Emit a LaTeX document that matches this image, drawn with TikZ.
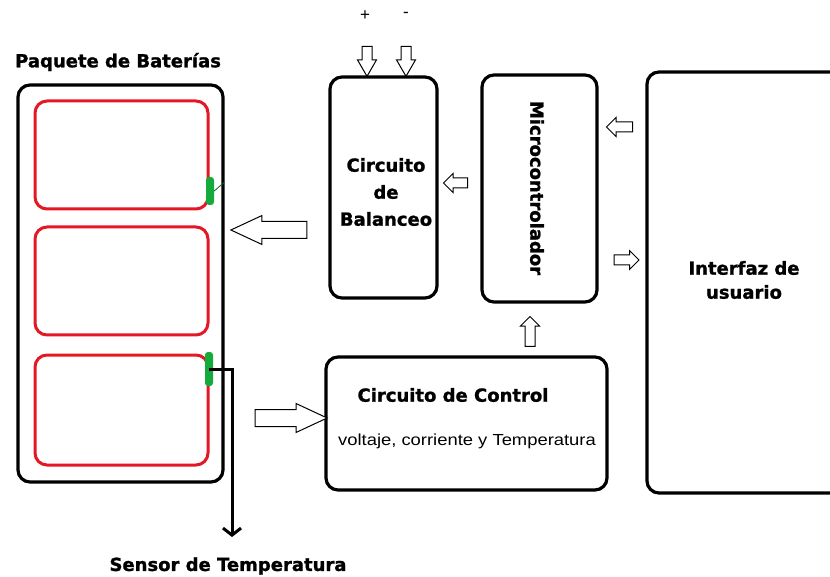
\documentclass[tikz,border=0pt]{standalone}
\usepackage{fontspec}
\setmainfont{Liberation Sans}
\newfontfamily\hb{DejaVu Sans}[BoldFeatures={FakeBold=1.2}]
\usetikzlibrary{shapes.arrows,arrows.meta}
\definecolor{cellred}{RGB}{228,24,36}
\definecolor{markgreen}{RGB}{20,170,60}
\begin{document}
\begin{tikzpicture}[x=1pt,y=-1pt,
  box/.style={draw, line width=3.2pt, rounded corners=12pt, inner sep=0pt},
  cell/.style={draw=cellred, line width=3pt, rounded corners=12pt, inner sep=0pt, minimum width=173pt},
  gmark/.style={fill=markgreen, rounded corners=3pt, minimum width=8pt, minimum height=30pt, inner sep=0pt},
  bigarrow/.style={single arrow, draw, fill=white, line width=1pt, inner sep=8pt, single arrow head extend=6pt, single arrow tip angle=50},
  smallarrow/.style={single arrow, draw, fill=white, line width=1pt, inner sep=4.5pt, single arrow head extend=4.5pt, single arrow tip angle=90},
  btext/.style={font=\hb\bfseries\fontsize{18}{22}\selectfont, inner sep=0pt},
  ntext/.style={font=\fontsize{16}{19}\selectfont, inner sep=0pt},
  signtext/.style={font=\fontsize{17}{19}\selectfont, inner sep=0pt}]
\useasboundingbox (0,0) rectangle (830,577);
\fill[white] (0,0) rectangle (830,577);
% battery pack
\node[box, minimum width=205pt, minimum height=397pt] (pack) at (120.5,283.5) {};
\node[cell, minimum height=108pt] (c1) at (121.5,155) {};
\node[cell, minimum height=108pt] (c2) at (121.5,281) {};
\node[cell, minimum height=110pt] (c3) at (121.5,410) {};
\node[gmark, minimum height=28pt] (g1) at (210,191) {};
\node[gmark, minimum height=34pt] (g3) at (209,369) {};
\draw[line width=0.8pt, markgreen!60!black] (g1.east) -- (pack.east |- 0,182);
\node[btext, anchor=west] (tpack) at (15,62) {Paquete de Baterías};
% blocks
\node[box, minimum width=107pt, minimum height=221pt] (bal) at (383.5,187.5) {};
\node[btext, align=center, font=\hb\bfseries\fontsize{18}{27}\selectfont] (tbal) at (386,192) {Circuito\\de\\Balanceo};
\node[box, minimum width=115pt, minimum height=227pt] (mic) at (539.5,188.5) {};
\node[btext, rotate=-90] (tmic) at (537,188) {Microcontrolador};
\node[box, minimum width=198pt, minimum height=421pt] (ui) at (746,282.5) {};
\node[btext, align=center, font=\hb\bfseries\fontsize{18}{24}\selectfont] (tui) at (744,280) {Interfaz de\\usuario};
\node[box, minimum width=281pt, minimum height=133pt] (ctl) at (466.5,423.5) {};
\node[btext] (tctl) at (453,395) {Circuito de Control};
\node[ntext, xscale=1.15] (tvol) at (467,441) {voltaje, corriente y Temperatura};
% inputs
\node[signtext] (plus) at (365,16) {+};
\node[signtext] (minus) at (406,15) {-};
\node[smallarrow, shape border rotate=270, minimum height=30pt, single arrow tip angle=60] (aplus) at (367,57) {};
\node[smallarrow, shape border rotate=270, minimum height=30pt, single arrow tip angle=60] (aminus) at (406,57) {};
% block arrows
\node[bigarrow, shape border rotate=180, minimum height=76pt] (abal) at (278,230) {};
\node[bigarrow, minimum height=72pt] (actl) at (282,418) {};
\node[smallarrow, shape border rotate=180, minimum height=24pt] (amb) at (458,183) {};
\node[smallarrow, shape border rotate=180, minimum height=26pt] (aim) at (622,127) {};
\node[smallarrow, minimum height=25pt] (ami) at (624,260) {};
\node[smallarrow, shape border rotate=90, minimum height=30pt] (acm) at (530,334) {};
% sensor
\coordinate (send) at (232,537);
\draw[line width=3pt, -{Straight Barb[length=7pt,width=18pt]}] (g3.center) -| (send);
\node[btext] (tsens) at (228,566) {Sensor de Temperatura};
\end{tikzpicture}
\end{document}
